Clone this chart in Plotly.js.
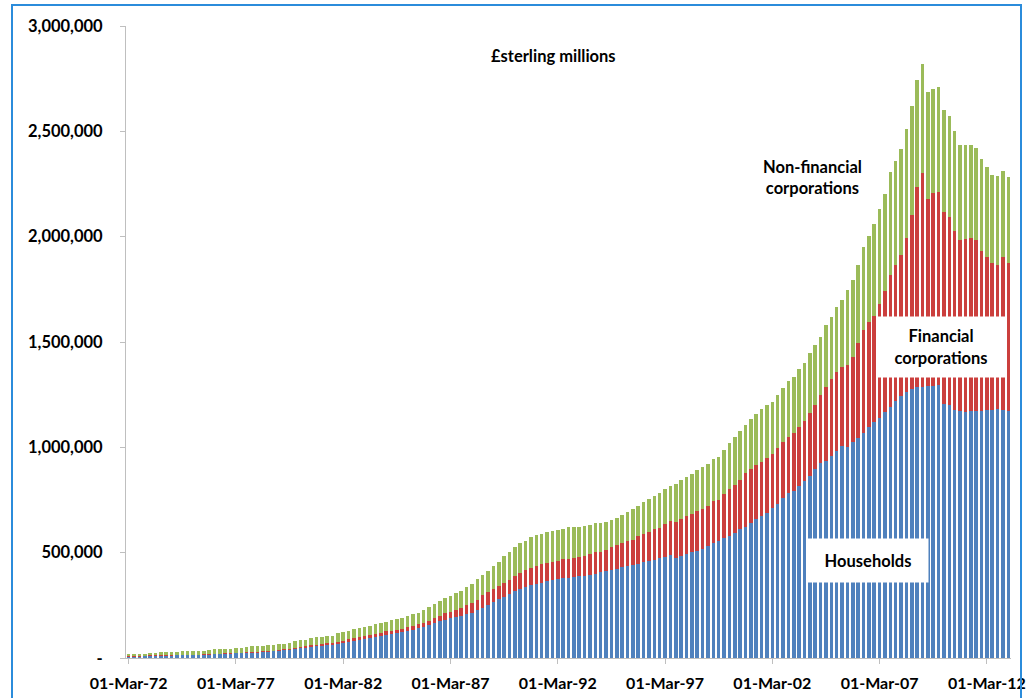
<!DOCTYPE html>
<html><head><meta charset="utf-8">
<script src="https://cdn.plot.ly/plotly-3.0.1.min.js"></script>
<style>
html,body{margin:0;padding:0;background:#fff;}
#chart{width:1027px;height:698px;}
#frame{position:absolute;left:11px;top:4px;width:1007px;height:720px;border:2px solid #2B8CDB;pointer-events:none;}
</style></head><body>
<div id="chart"></div><div id="frame"></div>
<script>
// Quarterly categories, 01-Mar-72 .. 01-Mar-13
const months = ['Mar','Jun','Sep','Dec'];
const categories = [];
for (let y = 1972; y <= 2013; y++) {
  for (let q = 0; q < 4; q++) {
    if (y === 2013 && q > 0) break;
    categories.push('01-' + months[q] + '-' + String(y % 100).padStart(2, '0'));
  }
}
const xTickLabels = ['01-Mar-72','01-Mar-77','01-Mar-82','01-Mar-87','01-Mar-92','01-Mar-97','01-Mar-02','01-Mar-07','01-Mar-12'];
const yTickValues = [0, 500000, 1000000, 1500000, 2000000, 2500000, 3000000];
const yTickLabels = ['-', '500,000', '1,000,000', '1,500,000', '2,000,000', '2,500,000', '3,000,000'];

// £ millions
const households = [
7000,7000,7000,8000,9000,10000,11000,11000,11000,12000,12000,13000,13000,14000,15000,16000,17000,18000,19000,20000,
22000,23000,24000,25000,26000,28000,29000,31000,33000,36000,39000,43000,47000,49000,53000,57000,59000,62000,64000,68000,
72000,76000,81000,86000,92000,97000,101000,105000,110000,114000,118000,123000,128000,135000,141000,146000,157000,168000,176000,180000,
188000,193000,201000,207000,215000,226000,239000,251000,264000,281000,291000,305000,318000,329000,335000,345000,351000,358000,365000,370000,
375000,378000,381000,384000,388000,391000,394000,400000,408000,413000,419000,424000,430000,438000,441000,448000,454000,460000,467000,476000,
479000,490000,476000,486000,494000,503000,509000,519000,532000,544000,555000,568000,581000,595000,611000,623000,639000,658000,674000,690000,
710000,729000,758000,782000,794000,816000,842000,865000,895000,924000,937000,960000,982000,1006000,1003000,1027000,1046000,1069000,1095000,1122000,
1141000,1169000,1193000,1220000,1245000,1264000,1277000,1285000,1288000,1292000,1291000,1296000,1205000,1201000,1177000,1172000,1169000,1172000,1172000,1172000,
1177000,1177000,1180000,1177000,1172000];
const financial = [
2000,2000,3000,3000,5000,5000,4000,3000,3000,2000,2000,2000,2000,2000,2000,2000,2000,3000,3000,3000,
3000,3000,3000,4000,4000,4000,4000,4000,5000,5000,5000,6000,6000,6000,7000,7000,8000,8000,9000,10000,
11000,12000,12000,13000,13000,14000,14000,15000,16000,16000,17000,17000,18000,19000,20000,20000,21000,23000,25000,32000,
32000,35000,38000,43000,48000,51000,59000,62000,65000,62000,65000,67000,71000,73000,81000,81000,84000,88000,87000,87000,
84000,90000,90000,92000,93000,93000,101000,101000,97000,101000,106000,111000,114000,116000,121000,131000,135000,138000,144000,143000,
157000,160000,168000,174000,182000,180000,189000,188000,191000,201000,195000,209000,221000,226000,234000,253000,256000,258000,258000,258000,
258000,266000,269000,268000,272000,279000,284000,296000,306000,324000,351000,363000,377000,374000,388000,400000,449000,488000,500000,503000,
539000,573000,625000,645000,668000,731000,825000,952000,1015000,886000,914000,916000,913000,894000,850000,812000,818000,820000,812000,758000,
725000,696000,685000,725000,701000];
const nonFinancial = [
10000,11000,9000,8000,9000,9000,13000,16000,16000,16000,18000,18000,18000,17000,17000,20000,22000,20000,22000,21000,
23000,23000,25000,26000,25000,26000,27000,28000,27000,27000,26000,30000,31000,30000,35000,34000,33000,34000,33000,39000,
40000,42000,45000,43000,44000,41000,45000,44000,46000,50000,52000,50000,52000,53000,55000,60000,62000,64000,69000,71000,
75000,79000,81000,85000,88000,96000,96000,101000,109000,114000,128000,131000,138000,142000,141000,147000,149000,144000,146000,146000,
147000,144000,149000,144000,142000,142000,138000,138000,134000,131000,130000,131000,135000,137000,144000,142000,150000,157000,158000,166000,
164000,168000,183000,185000,185000,190000,194000,198000,196000,198000,205000,210000,217000,226000,232000,230000,239000,242000,248000,253000,
249000,252000,254000,266000,269000,275000,272000,285000,284000,277000,292000,297000,305000,319000,356000,367000,370000,395000,408000,435000,
451000,460000,487000,495000,503000,517000,519000,506000,515000,507000,495000,499000,483000,477000,473000,452000,446000,444000,435000,437000,
427000,419000,423000,408000,408000];

const FONT = 'Lato, "Open Sans", sans-serif';
const annFont = {family:FONT, size:16.5, color:'#000', weight:700};
const traces = [
  {type:'bar', name:'Households', x:categories, y:households, marker:{color:'#4F81BD', line:{width:0}}},
  {type:'bar', name:'Financial corporations', x:categories, y:financial, marker:{color:'#CB3F3D', line:{width:0}}},
  {type:'bar', name:'Non-financial corporations', x:categories, y:nonFinancial, marker:{color:'#9BBB59', line:{width:0}}}
];

const layout = {
  width:1027, height:698,
  margin:{l:126, r:16, t:26, b:40, pad:0},
  paper_bgcolor:'#fff', plot_bgcolor:'#fff',
  barmode:'stack', bargap:0.35,
  showlegend:false,
  font:{family:FONT, size:16, color:'#000', weight:700},
  xaxis:{type:'category', range:[-0.5, 164.5], tickmode:'array', tickvals:xTickLabels, ticktext:xTickLabels,
    ticks:'outside', ticklen:5, tickcolor:'#bfbfbf', showline:true, linecolor:'#bfbfbf', linewidth:1,
    showgrid:false, zeroline:false, tickangle:0, ticklabelstandoff:6,
    tickfont:{family:FONT, size:16, color:'#000', weight:700}},
  yaxis:{range:[0, 3000000], tickmode:'array', tickvals:yTickValues, ticktext:yTickLabels,
    ticks:'outside', ticklen:5, tickcolor:'#bfbfbf', showline:true, linecolor:'#bfbfbf', linewidth:1,
    showgrid:false, zeroline:false, ticklabelstandoff:14,
    tickfont:{family:FONT, size:16.5, color:'#000', weight:700}},
  annotations:[
    {xref:'paper', yref:'paper', x:0.4825, y:0.9525, xanchor:'center', yanchor:'middle',
     text:'£sterling millions', showarrow:false, font:annFont},
    {xref:'paper', yref:'paper', x:0.776, y:0.7595, xanchor:'center', yanchor:'middle',
     text:'Non-financial<br>corporations', showarrow:false, font:annFont, bgcolor:'#fff', align:'center'},
    {xref:'paper', yref:'paper', x:0.921, y:0.492, xanchor:'center', yanchor:'middle',
     text:'Financial<br>corporations', showarrow:false, font:annFont, bgcolor:'#fff', align:'center',
     width:124, height:56, borderpad:2},
    {xref:'paper', yref:'paper', x:0.838, y:0.1535, xanchor:'center', yanchor:'middle',
     text:'Households', showarrow:false, font:annFont, bgcolor:'#fff', width:116, height:39, borderpad:2}
  ]
};

Plotly.newPlot('chart', traces, layout, {staticPlot:true, displayModeBar:false});
</script>
</body></html>
